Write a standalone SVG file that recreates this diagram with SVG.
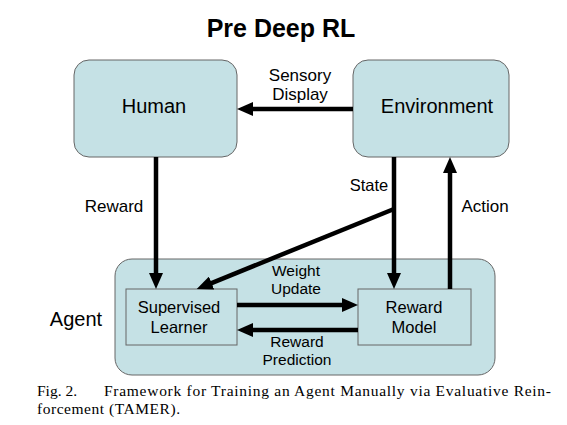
<svg xmlns="http://www.w3.org/2000/svg" width="567" height="425" viewBox="0 0 567 425">
<style>
.box{fill:#c5e1e5;stroke:#666;stroke-width:1}
.lbl{font-family:"Liberation Sans",Arial,sans-serif;fill:#000;text-anchor:middle}
.cap{font-family:"Liberation Serif","Times New Roman",serif;font-size:15.5px;fill:#000}
.ar{stroke:#000;stroke-width:4.5;fill:none}
</style>
<defs>
<marker id="ah" viewBox="0 0 16 14" refX="6" refY="7" markerWidth="16" markerHeight="14" orient="auto" markerUnits="userSpaceOnUse">
<path d="M0,0 L16,7 L0,14 z" fill="#000"/>
</marker>
</defs>
<rect width="567" height="425" fill="#fff"/>
<text class="lbl" x="281" y="37" font-size="25" font-weight="bold">Pre Deep RL</text>
<g id="agent">
<rect class="box" x="115" y="259" width="380" height="116" rx="17"/>
<text class="lbl" x="76" y="326" font-size="20">Agent</text>
</g>
<g id="human">
<rect class="box" x="74" y="60" width="163" height="97" rx="15"/>
<text class="lbl" x="154" y="113" font-size="20">Human</text>
</g>
<g id="environment">
<rect class="box" x="353" y="60" width="156" height="97" rx="15"/>
<text class="lbl" x="437" y="113" font-size="20">Environment</text>
</g>
<g id="supervised-learner">
<rect class="box" x="126" y="289" width="111" height="56"/>
<text class="lbl" x="179" y="313" font-size="16.5">Supervised</text>
<text class="lbl" x="179" y="333" font-size="16.5">Learner</text>
</g>
<g id="reward-model">
<rect class="box" x="358" y="289" width="113" height="56"/>
<text class="lbl" x="414" y="313" font-size="16.5">Reward</text>
<text class="lbl" x="414" y="333" font-size="16.5">Model</text>
</g>
<g id="connectors">
<line class="ar" x1="353" y1="109" x2="247" y2="109" marker-end="url(#ah)"/>
<line class="ar" x1="156" y1="157" x2="156" y2="279" marker-end="url(#ah)"/>
<line class="ar" x1="394" y1="157" x2="394" y2="279" marker-end="url(#ah)"/>
<line class="ar" x1="394" y1="209" x2="206" y2="285.3" marker-end="url(#ah)"/>
<line class="ar" x1="450" y1="289" x2="450" y2="167" marker-end="url(#ah)"/>
<line class="ar" x1="237" y1="305" x2="348" y2="305" marker-end="url(#ah)"/>
<line class="ar" x1="358" y1="330" x2="247" y2="330" marker-end="url(#ah)"/>
</g>
<g id="labels">
<text class="lbl" x="300" y="81" font-size="17">Sensory</text>
<text class="lbl" x="300" y="100" font-size="17">Display</text>
<text class="lbl" x="114" y="212" font-size="17">Reward</text>
<text class="lbl" x="369" y="191" font-size="16.5">State</text>
<text class="lbl" x="485" y="212" font-size="17">Action</text>
<text class="lbl" x="296" y="276" font-size="15.5">Weight</text>
<text class="lbl" x="296" y="294" font-size="15.5">Update</text>
<text class="lbl" x="297" y="347" font-size="15.5">Reward</text>
<text class="lbl" x="297" y="365" font-size="15.5">Prediction</text>
</g>
<text class="cap"><tspan x="37" y="396">Fig. 2.</tspan><tspan x="104" y="396" textLength="447" lengthAdjust="spacing">Framework for Training an Agent Manually via Evaluative Rein-</tspan><tspan x="37" y="414" textLength="143" lengthAdjust="spacing">forcement (TAMER).</tspan></text>
</svg>
